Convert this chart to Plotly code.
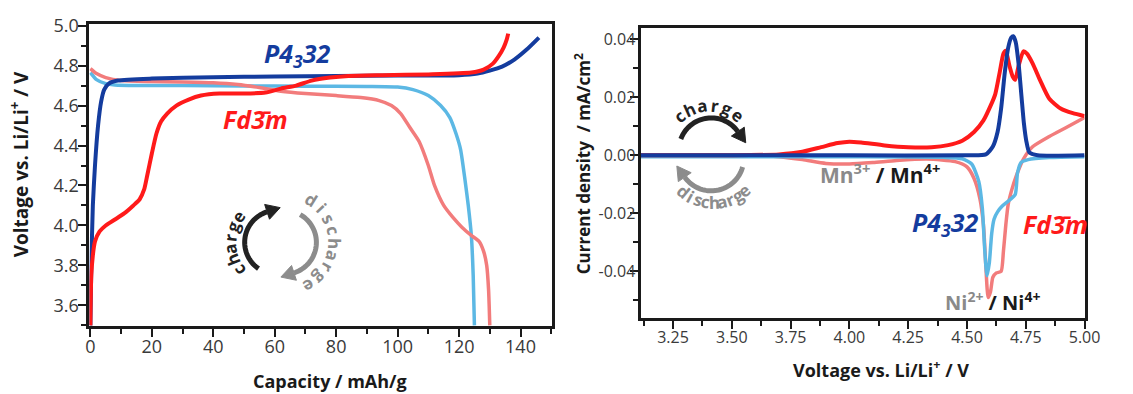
import math
import plotly.graph_objects as go

W, H = 1133, 394

# ---------------- Left panel data: galvanostatic curves ----------------
cap_P_charge = [0, 0.3, 0.8, 1.5, 2.5, 3.5, 4.5, 6, 9, 20, 40, 60, 80, 100, 120, 126, 130, 134, 138, 142, 146]
V_P_charge = [3.5, 3.8, 4.1, 4.3, 4.5, 4.62, 4.68, 4.71, 4.725, 4.735, 4.742, 4.745, 4.748, 4.75, 4.752,
              4.76, 4.775, 4.795, 4.83, 4.88, 4.94]

cap_F_charge = [0, 0.3, 0.8, 1.5, 3, 5, 8, 11, 14, 16, 17.5, 18.5, 20, 21.5, 23, 25, 28, 32, 36, 42, 50, 57,
                62, 67, 72, 78, 84, 95, 110, 124, 128, 131, 133, 134.5, 135.5, 136]
V_F_charge = [3.5, 3.75, 3.85, 3.92, 3.97, 4.0, 4.03, 4.06, 4.1, 4.13, 4.18, 4.25, 4.36, 4.46, 4.52, 4.56,
              4.6, 4.63, 4.65, 4.66, 4.66, 4.665, 4.685, 4.70, 4.725, 4.74, 4.748, 4.752, 4.756, 4.765,
              4.78, 4.81, 4.85, 4.89, 4.93, 4.96]

cap_P_dis = [0, 2, 5, 8, 15, 30, 50, 70, 90, 100, 105, 110, 114, 117, 119, 120.5, 122, 123, 124, 124.6, 125]
V_P_dis = [4.765, 4.73, 4.71, 4.703, 4.70, 4.70, 4.698, 4.697, 4.696, 4.693, 4.68, 4.65, 4.6, 4.54, 4.46,
           4.38, 4.22, 4.1, 3.95, 3.75, 3.5]

cap_F_dis = [0, 2, 5, 10, 20, 30, 40, 48, 55, 62, 70, 80, 88, 94, 98, 101, 104, 107, 110, 112, 115, 118,
             121, 124, 126.5, 128, 129, 129.6, 130]
V_F_dis = [4.785, 4.76, 4.74, 4.725, 4.72, 4.718, 4.714, 4.705, 4.69, 4.672, 4.66, 4.65, 4.64, 4.625,
           4.6, 4.56, 4.49, 4.42, 4.3, 4.2, 4.1, 4.04, 3.99, 3.95, 3.92, 3.87, 3.8, 3.68, 3.5]

cap_ticks = [0, 20, 40, 60, 80, 100, 120, 140]
volt_ticks = [3.6, 3.8, 4.0, 4.2, 4.4, 4.6, 4.8, 5.0]
volt_labels = ["3.6", "3.8", "4.0", "4.2", "4.4", "4.6", "4.8", "5.0"]

# ---------------- Right panel data: cyclic voltammetry ----------------
E_F_ch = [3.11, 3.5, 3.7, 3.8, 3.88, 3.95, 4.0, 4.05, 4.15, 4.25, 4.35, 4.42, 4.48, 4.53, 4.57, 4.6, 4.62,
          4.64, 4.655, 4.665, 4.68, 4.695, 4.705, 4.72, 4.74, 4.755, 4.78, 4.81, 4.85, 4.9, 4.95, 5.0]
I_F_ch = [0, 0, 0.0003, 0.0012, 0.0028, 0.0042, 0.0047, 0.0044, 0.0034, 0.0028, 0.0028, 0.0035, 0.0050,
          0.0080, 0.012, 0.017, 0.021, 0.029, 0.035, 0.036, 0.031, 0.027, 0.026, 0.031, 0.0358, 0.035,
          0.0315, 0.026, 0.0195, 0.016, 0.0145, 0.0135]

E_P_ch = [3.11, 4.0, 4.5, 4.58, 4.61, 4.63, 4.645, 4.66, 4.675, 4.688, 4.697, 4.707, 4.72, 4.732, 4.742,
          4.752, 4.765, 4.8, 5.0]
I_P_ch = [0, 0, 0, 0.0003, 0.003, 0.008, 0.016, 0.028, 0.037, 0.0405, 0.041, 0.039, 0.031, 0.02, 0.011,
          0.005, 0.001, 0, 0]

E_P_dis = [3.11, 4.0, 4.4, 4.48, 4.52, 4.55, 4.565, 4.575, 4.585, 4.595, 4.605, 4.615, 4.63, 4.65, 4.68,
           4.705, 4.715, 4.73, 4.76, 4.85, 5.0]
I_P_dis = [-0.0005, -0.0005, -0.0007, -0.0012, -0.003, -0.009, -0.018, -0.032, -0.0415, -0.037, -0.027,
           -0.022, -0.0195, -0.0175, -0.0155, -0.0135, -0.006, -0.0025, -0.0015, -0.0008, -0.0005]

E_F_dis = [3.11, 3.6, 3.7, 3.8, 3.9, 4.0, 4.1, 4.2, 4.33, 4.45, 4.5, 4.53, 4.555, 4.57, 4.58, 4.59, 4.6,
           4.61, 4.625, 4.645, 4.655, 4.665, 4.675, 4.69, 4.71, 4.74, 4.78, 4.85, 4.92, 5.0]
I_F_dis = [0, 0, -0.0005, -0.0015, -0.0028, -0.003, -0.0025, -0.0018, -0.0013, -0.0022, -0.004, -0.008,
           -0.015, -0.024, -0.038, -0.049, -0.047, -0.042, -0.0405, -0.04, -0.033, -0.024, -0.017, -0.012,
           -0.007, -0.0013, 0.003, 0.0065, 0.0095, 0.013]

E_ticks = [3.25, 3.50, 3.75, 4.00, 4.25, 4.50, 4.75, 5.00]
E_labels = ["3.25", "3.50", "3.75", "4.00", "4.25", "4.50", "4.75", "5.00"]
I_ticks = [-0.04, -0.02, 0.00, 0.02, 0.04]
I_labels = ["-0.04", "-0.02", "0.00", "0.02", "0.04"]

# colours
DARK_BLUE = "#143c9e"
RED = "#ff1a1a"
LIGHT_BLUE = "#5cb8e4"
SALMON = "#f27c7c"
FONT = "Open Sans"

fig = go.Figure()

def line(x, y, color, width, xa, ya):
    fig.add_trace(go.Scatter(x=x, y=y, mode="lines", xaxis=xa, yaxis=ya,
                             line=dict(color=color, width=width, shape="spline", smoothing=0.6),
                             showlegend=False, hoverinfo="skip"))

# left panel
line(cap_P_dis, V_P_dis, LIGHT_BLUE, 3.5, "x", "y")
line(cap_F_dis, V_F_dis, SALMON, 3.5, "x", "y")
line(cap_P_charge, V_P_charge, DARK_BLUE, 4, "x", "y")
line(cap_F_charge, V_F_charge, RED, 4, "x", "y")
# right panel
line(E_F_dis, I_F_dis, SALMON, 3.5, "x2", "y2")
line(E_P_dis, I_P_dis, LIGHT_BLUE, 3.5, "x2", "y2")
line(E_F_ch, I_F_ch, RED, 4, "x2", "y2")
line(E_P_ch, I_P_ch, DARK_BLUE, 4, "x2", "y2")

def px(x):
    return x / W

def py(y):
    return 1 - y / H

def axis_style(size, standoff):
    return dict(showline=True, linecolor="#1a1a1a", linewidth=3, mirror=True,
                ticks="outside", ticklen=8, tickwidth=2, tickcolor="#1a1a1a",
                showgrid=False, zeroline=False, ticklabelstandoff=standoff,
                tickfont=dict(family=FONT, size=size, color="#3a3a3a"))

def minor(dt, t0):
    return dict(ticks="outside", ticklen=5, tickwidth=2, tickcolor="#1a1a1a", dtick=dt, tick0=t0)

fig.update_layout(
    width=W, height=H, margin=dict(l=0, r=0, t=0, b=0),
    paper_bgcolor="white", plot_bgcolor="white",
    xaxis=dict(domain=[px(87), px(558)], range=[-0.3, 150.3], tickvals=cap_ticks,
               minor=minor(10, 0), anchor="y", **axis_style(18, -6)),
    yaxis=dict(domain=[py(324), py(13)], range=[3.497, 5.01], tickvals=volt_ticks, ticktext=volt_labels,
               minor=minor(0.1, 3.5), anchor="x", **axis_style(18, -4)),
    xaxis2=dict(domain=[px(648), px(1100)], range=[3.112, 5.0], tickvals=E_ticks, ticktext=E_labels,
                minor=minor(0.125, 3.0), anchor="y2", **axis_style(16, -5)),
    yaxis2=dict(domain=[py(316), py(17)], range=[-0.0561, 0.044], tickvals=I_ticks, ticktext=I_labels,
                minor=minor(0.01, 0), anchor="x2", **axis_style(16, -9)),
)

ann = []
shapes = []

def text(x, y, t, size, color="#1a1a1a", angle=0, xanchor="center", bold=False, italic=False):
    s = t
    if italic:
        s = "<i>" + s + "</i>"
    if bold:
        s = "<b>" + s + "</b>"
    ann.append(dict(x=px(x), y=py(y), xref="paper", yref="paper", text=s, showarrow=False,
                    textangle=angle, xanchor=xanchor, yanchor="middle",
                    font=dict(family=FONT, size=size, color=color)))

# axis titles
text(332, 381, "Capacity / mAh/g", 18, bold=True)
text(16, 158, "Voltage vs. Li/Li<sup>+</sup> / V", 19, angle=-90, bold=True)
text(893, 368, "Voltage vs. Li/Li<sup>+</sup> / V", 18, bold=True)
text(589, 157, "Current density  / mA/cm<sup>2</sup>", 17, angle=-90, bold=True)

# phase labels
text(298, 45, "P4<sub>3</sub>32", 25, DARK_BLUE, bold=True, italic=True)
text(256, 111, "Fd3\u0304m", 25, RED, bold=True, italic=True)
text(958, 219, "P4<sub>3</sub>32", 25, DARK_BLUE, bold=True, italic=True)
text(1070, 219, "Fd3\u0304m", 25, RED, bold=True, italic=True)

# redox couples
ann.append(dict(x=px(892), y=py(167), xref="paper", yref="paper", showarrow=False, xanchor="center", yanchor="middle",
                text='<b><span style="color:#8a8a8a">Mn<sup>3+</sup></span> / Mn<sup>4+</sup></b>',
                font=dict(family=FONT, size=21, color="#1a1a1a")))
ann.append(dict(x=px(1006), y=py(299), xref="paper", yref="paper", showarrow=False, xanchor="center", yanchor="middle",
                text='<b><span style="color:#8a8a8a">Ni<sup>2+</sup></span> / Ni<sup>4+</sup></b>',
                font=dict(family=FONT, size=20, color="#1a1a1a")))

# curved arrows
def arc(cx, cy, r, a0, a1, color, width=5, head=14, hw=8):
    n = 40
    pts = []
    for i in range(n + 1):
        a = math.radians(a0 + (a1 - a0) * i / n)
        pts.append((cx + r * math.cos(a), cy - r * math.sin(a)))
    d = "M " + " L ".join(f"{px(x):.5f},{py(y):.5f}" for x, y in pts)
    shapes.append(dict(type="path", path=d, xref="paper", yref="paper",
                       line=dict(color=color, width=width)))
    a = math.radians(a1)
    sgn = 1 if a1 > a0 else -1
    tx, ty = -math.sin(a) * sgn, -math.cos(a) * sgn
    ex, ey = pts[-1]
    nx, ny = -ty, tx
    tip = (ex + tx * head, ey + ty * head)
    b1 = (ex + nx * hw, ey + ny * hw)
    b2 = (ex - nx * hw, ey - ny * hw)
    d2 = f"M {px(tip[0]):.5f},{py(tip[1]):.5f} L {px(b1[0]):.5f},{py(b1[1]):.5f} L {px(b2[0]):.5f},{py(b2[1]):.5f} Z"
    shapes.append(dict(type="path", path=d2, xref="paper", yref="paper",
                       fillcolor=color, line=dict(color=color, width=1)))

def curved_text(cx, cy, r, a0, a1, word, color, size, outward=True):
    n = len(word)
    for i, ch in enumerate(word):
        a = a0 + (a1 - a0) * i / (n - 1)
        ar = math.radians(a)
        x = cx + r * math.cos(ar)
        y = cy - r * math.sin(ar)
        ang = 90 - a if outward else 270 - a
        text(x, y, ch, size, color, angle=ang, bold=True)

BLACK_ARROW = "#222222"
GRAY_ARROW = "#8c8c8c"

# left panel arrows
arc(278, 238, 33, 235, 108, BLACK_ARROW)
arc(285, 238, 33, 60, -72, GRAY_ARROW)
curved_text(278, 238, 48, 216, 146, "charge", BLACK_ARROW, 17)
curved_text(285, 238, 52, 58, -60, "discharge", GRAY_ARROW, 17)

# right panel arrows
arc(720, 143, 33, 160, 35, BLACK_ARROW)
arc(720, 152, 33, -15, -145, GRAY_ARROW)
curved_text(718, 145, 48, 130, 52, "charge", BLACK_ARROW, 17)
curved_text(722, 150, 47, 230, 312, "discharge", GRAY_ARROW, 17, outward=False)

fig.update_layout(annotations=ann, shapes=shapes)
fig.write_html("out.html")
